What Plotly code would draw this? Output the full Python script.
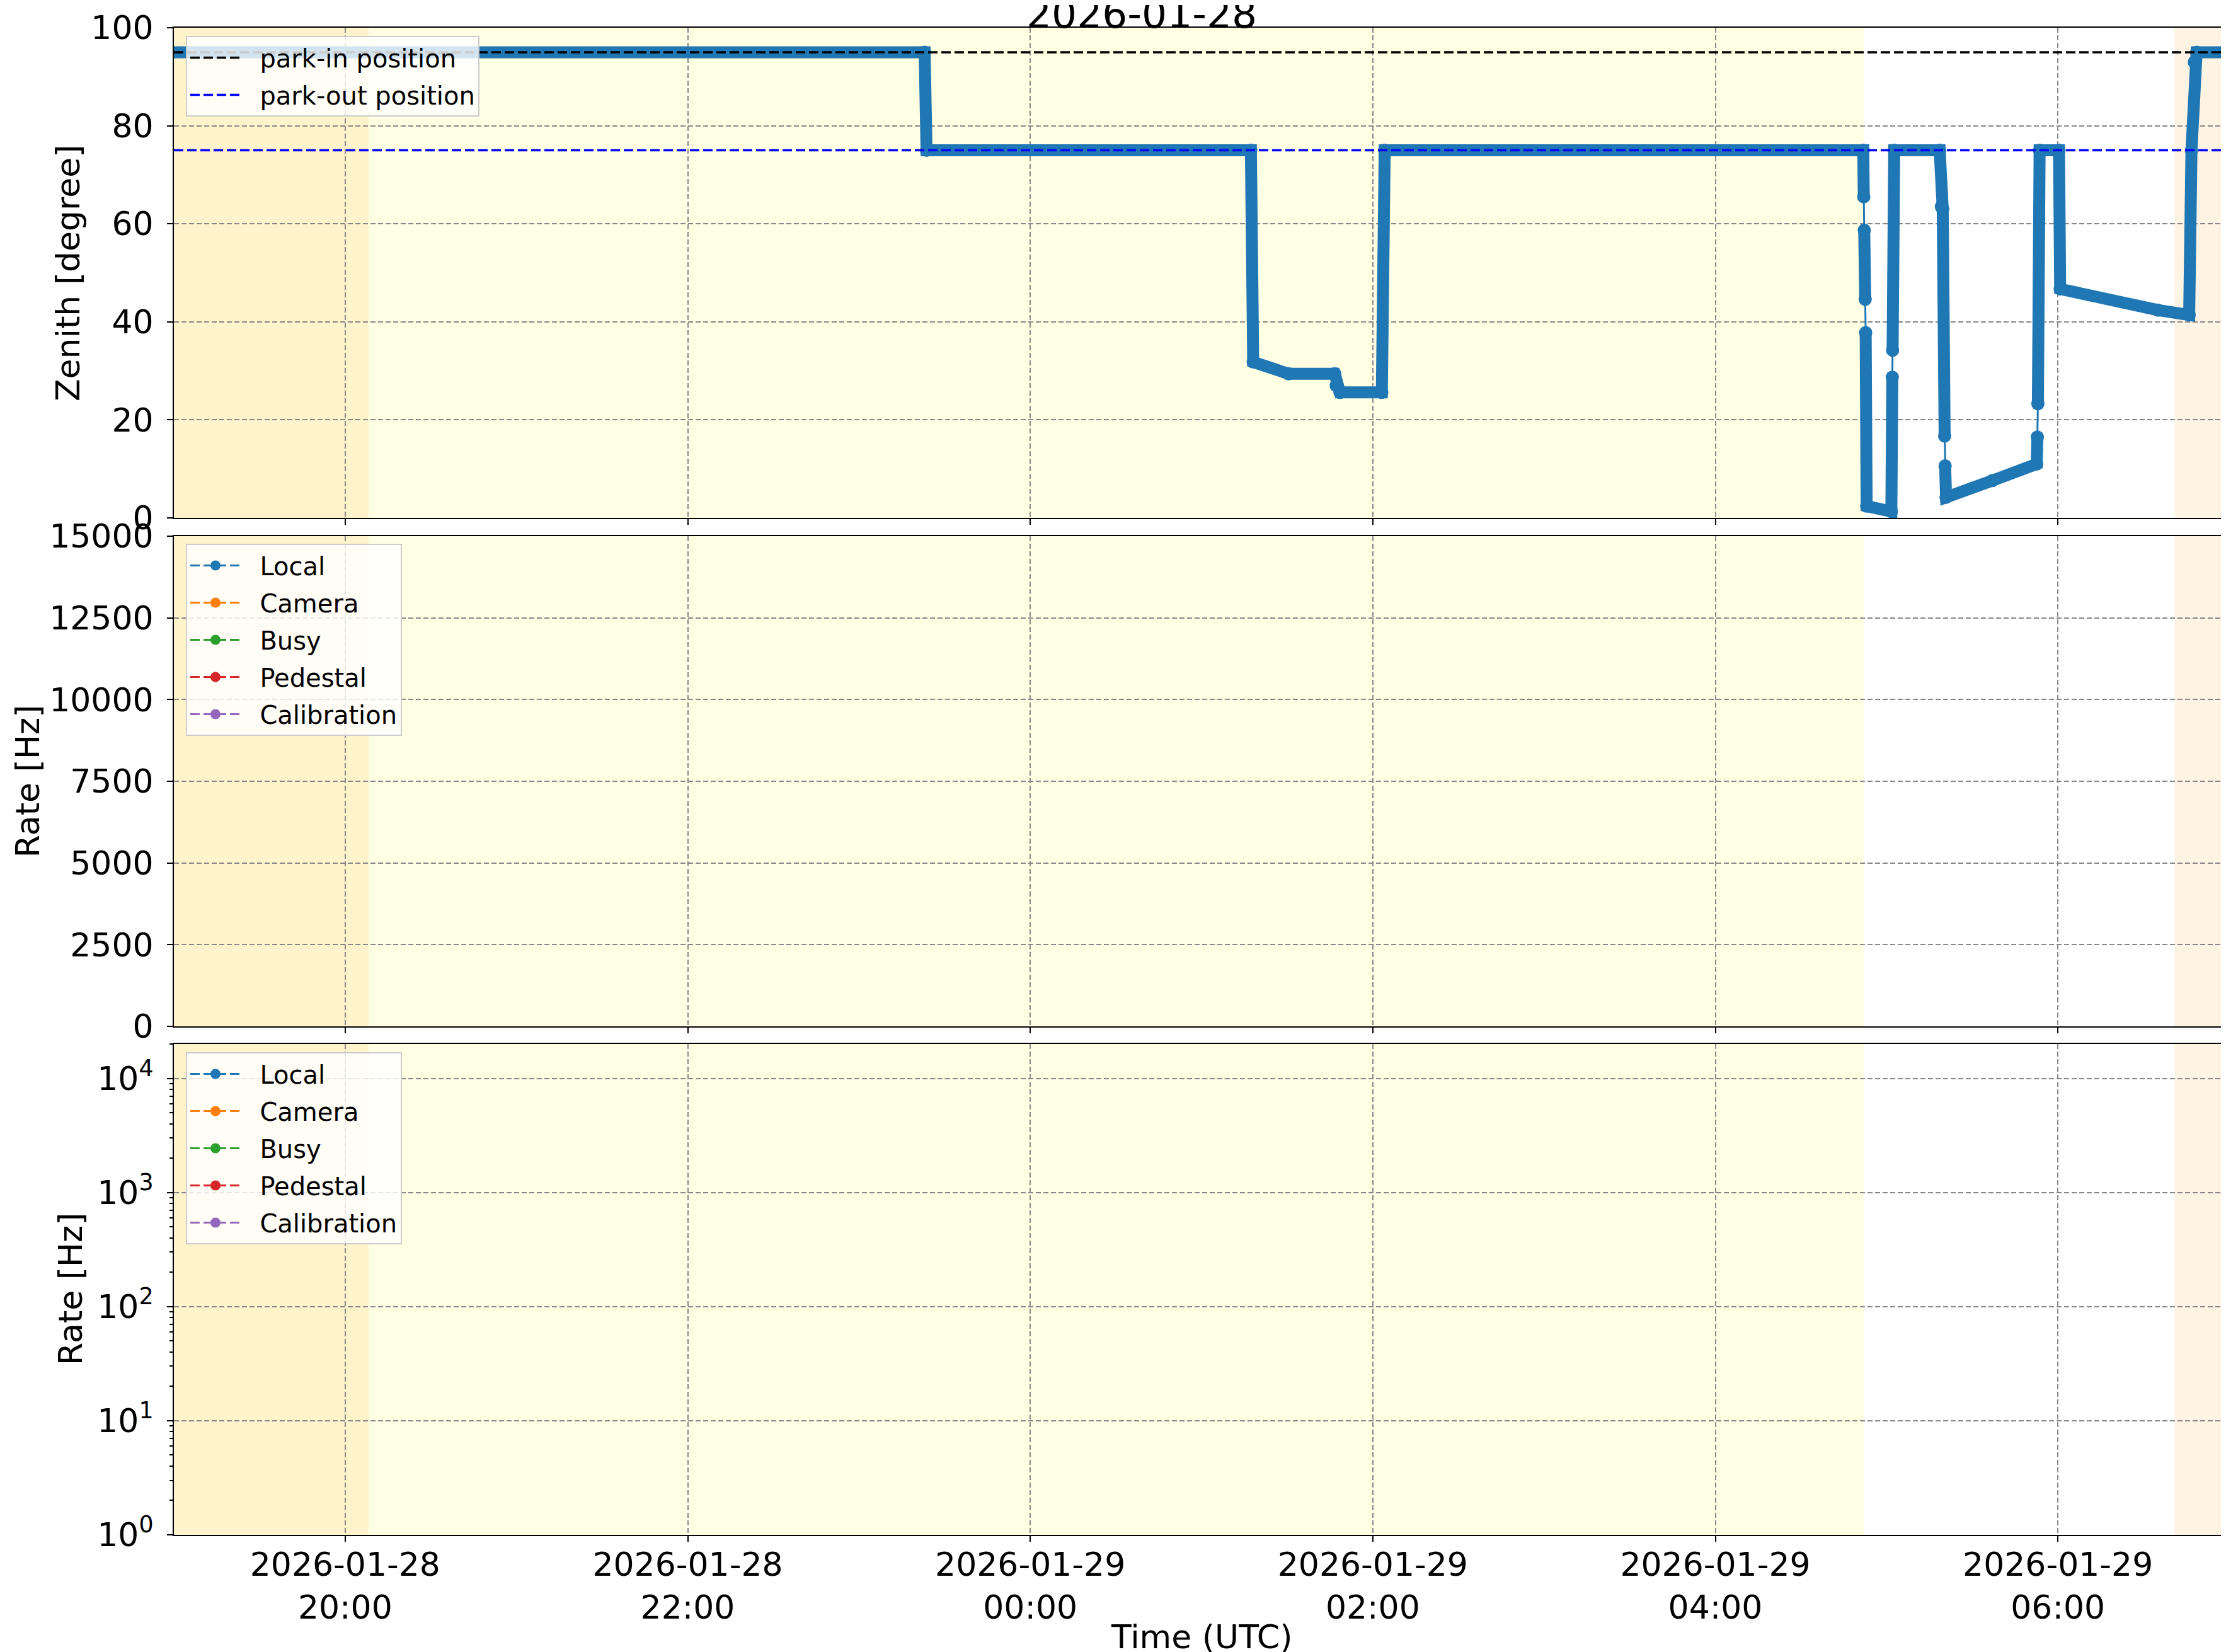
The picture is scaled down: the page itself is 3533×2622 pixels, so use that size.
import plotly.graph_objects as go
from plotly.subplots import make_subplots

# ---------------- data ----------------
TITLE = "2026-01-28"

# zenith angle samples (None = missing samples)
zen_time = [
    "2026-01-28 18:58:00", "2026-01-28 23:23:00", "2026-01-28 23:23:40",
    "2026-01-29 01:17:18", "2026-01-29 01:18:06", "2026-01-29 01:30:30",
    "2026-01-29 01:46:40", "2026-01-29 01:47:10", "2026-01-29 01:48:30",
    "2026-01-29 02:03:10", "2026-01-29 02:04:10", "2026-01-29 04:51:50",
    "2026-01-29 04:52:00", "2026-01-29 04:52:05", "2026-01-29 04:52:10",
    "2026-01-29 04:52:30", "2026-01-29 04:52:35", "2026-01-29 04:52:40",
    "2026-01-29 04:53:00", "2026-01-29 05:01:40", "2026-01-29 05:02:00",
    "2026-01-29 05:02:03", "2026-01-29 05:02:06", "2026-01-29 05:02:40",
    "2026-01-29 05:18:36", "2026-01-29 05:19:10", "2026-01-29 05:19:40",
    "2026-01-29 05:20:20", "2026-01-29 05:20:25", "2026-01-29 05:20:30",
    "2026-01-29 05:20:50", "2026-01-29 05:37:00", "2026-01-29 05:52:36",
    "2026-01-29 05:52:48", "2026-01-29 05:52:54", "2026-01-29 05:53:00",
    "2026-01-29 05:53:36", "2026-01-29 06:00:24", "2026-01-29 06:00:48",
    "2026-01-29 06:35:00", "2026-01-29 06:46:00", "2026-01-29 06:46:48",
    "2026-01-29 06:47:48", "2026-01-29 06:48:36", "2026-01-29 07:05:00",
]
zen_deg = [
    95.0, 95.0, 75.0,
    75.0, 31.8, 29.4,
    29.4, 27.0, 25.6,
    25.6, 75.0, 75.0,
    65.5, None, 58.7,
    44.6, None, 37.8,
    2.4, 1.3, 28.7,
    None, 34.2, 75.0,
    75.0, 63.5, 63.0,
    16.7, None, 10.6,
    4.2, 7.6, 11.0,
    16.5, None, 23.3,
    75.0, 75.0, 46.7,
    42.4, 41.4, 75.0,
    93.0, 95.0, 95.0,
]

PARK_IN = 95
PARK_OUT = 75
X_START = "2026-01-28 19:00:00"
X_END = "2026-01-29 07:00:00"

# trigger rates (no valid samples in this night)
rate_names = ["Local", "Camera", "Busy", "Pedestal", "Calibration"]
rate_colors = ["#1f77b4", "#ff7f0e", "#2ca02c", "#d62728", "#9467bd"]
rate_time = [None]
rate_local = [None]
rate_camera = [None]
rate_busy = [None]
rate_pedestal = [None]
rate_calibration = [None]
rate_values = [rate_local, rate_camera, rate_busy, rate_pedestal, rate_calibration]

# twilight / night background bands
band_start = ["2026-01-28 18:50:00", "2026-01-28 20:08:12", "2026-01-29 06:40:54"]
band_end = ["2026-01-28 20:08:12", "2026-01-29 04:52:00", "2026-01-29 07:10:00"]
band_color = ["#FFF3CB", "#FFFFE3", "#FFF4E3"]

x_tickvals = ["2026-01-28 20:00", "2026-01-28 22:00", "2026-01-29 00:00",
              "2026-01-29 02:00", "2026-01-29 04:00", "2026-01-29 06:00"]
x_ticktext = ["2026-01-28<br>20:00", "2026-01-28<br>22:00", "2026-01-29<br>00:00",
              "2026-01-29<br>02:00", "2026-01-29<br>04:00", "2026-01-29<br>06:00"]
zen_ticks = [0, 20, 40, 60, 80, 100]
lin_ticks = [0, 2500, 5000, 7500, 10000, 12500, 15000]
log_ticks = [1, 10, 100, 1000, 10000]
log_ticktext = ["10<sup>0</sup>", "10<sup>1</sup>", "10<sup>2</sup>", "10<sup>3</sup>", "10<sup>4</sup>"]

# ---------------- figure ----------------
W, H = 3533, 2622
ML, MR, MT, MB = 268, 1, 36, 194
FONT = "DejaVu Sans"
BLUE = "#1f77b4"
NB = "\u00a0\u00a0"  # small gap between legend symbol and label

fig = make_subplots(rows=3, cols=1, shared_xaxes=True)

# zenith: thin connecting line (through gaps) + thick beaded band
fig.add_trace(go.Scatter(x=zen_time, y=zen_deg, mode="lines", connectgaps=True,
                         line=dict(color=BLUE, width=3), showlegend=False,
                         hoverinfo="skip"), row=1, col=1)
fig.add_trace(go.Scatter(x=zen_time, y=zen_deg, mode="lines+markers", connectgaps=False,
                         line=dict(color=BLUE, width=19),
                         marker=dict(color=BLUE, size=21, line=dict(width=0)),
                         showlegend=False, name="Zenith"), row=1, col=1)
fig.add_trace(go.Scatter(x=[X_START, X_END], y=[PARK_IN, PARK_IN], mode="lines",
                         line=dict(color="black", width=3.5, dash="15px,6px"),
                         name=NB + "park-in position", legend="legend",
                         legendgroup="pin"), row=1, col=1)
fig.add_trace(go.Scatter(x=[X_START, X_END], y=[PARK_OUT, PARK_OUT], mode="lines",
                         line=dict(color="blue", width=3.5, dash="15px,6px"),
                         name=NB + "park-out position", legend="legend",
                         legendgroup="pout"), row=1, col=1)

for row, leg in ((2, "legend2"), (3, "legend3")):
    for name, col, vals in zip(rate_names, rate_colors, rate_values):
        fig.add_trace(go.Scatter(x=rate_time, y=vals, mode="lines+markers", name=NB + name,
                                 line=dict(color=col, width=3, dash="15px,6px"),
                                 marker=dict(color=col, size=16),
                                 legend=leg, legendgroup=f"{leg}-{name}"), row=row, col=1)

# background bands
for i, yd in ((1, "y domain"), (2, "y2 domain"), (3, "y3 domain")):
    xr = "x" if i == 1 else f"x{i}"
    for s, e, c in zip(band_start, band_end, band_color):
        fig.add_shape(type="rect", xref=xr, yref=yd, x0=s, x1=e, y0=0, y1=1,
                      fillcolor=c, line=dict(width=0), layer="below")

plot_h = H - MT - MB
def dom(top_px, bot_px):
    return [(H - MB - bot_px) / plot_h, (H - MB - top_px) / plot_h]

axis_common = dict(showline=True, linecolor="black", linewidth=2, mirror=True,
                   ticks="outside", ticklen=9, tickwidth=2, tickcolor="black",
                   showgrid=True, gridcolor="#888888", gridwidth=2, griddash="8px,4px",
                   tickfont=dict(family=FONT, size=52, color="black"), zeroline=False)

for i in (1, 2, 3):
    fig.update_xaxes(axis_common, row=i, col=1)
    fig.update_xaxes(type="date", range=[X_START, X_END], tickmode="array",
                     tickvals=x_tickvals, ticktext=x_ticktext,
                     showticklabels=(i == 3), row=i, col=1)
fig.update_xaxes(ticklabelstandoff=-8, row=3, col=1)

fig.update_yaxes(axis_common, row=1, col=1)
fig.update_yaxes(range=[0, 100], tickvals=zen_ticks, ticklabelstandoff=11,
                 domain=dom(36, 814), row=1, col=1)
fig.update_yaxes(axis_common, row=2, col=1)
fig.update_yaxes(range=[0, 15000], tickvals=lin_ticks, ticktext=[str(v) for v in lin_ticks],
                 ticklabelstandoff=11, domain=dom(843, 1621), row=2, col=1)
fig.update_yaxes(axis_common, row=3, col=1)
fig.update_yaxes(type="log", range=[0, 4.301], tickvals=log_ticks, ticktext=log_ticktext,
                 ticklabelstandoff=11, domain=dom(1649, 2428),
                 minor=dict(ticks="outside", ticklen=5, tickwidth=1.5, tickcolor="black",
                            dtick="D1", showgrid=False),
                 row=3, col=1)

def px_x(px):
    return (px - ML) / (W - ML - MR)

def px_y(py):
    return (H - MB - py) / plot_h

legend_common = dict(bgcolor="rgba(255,255,255,0.8)", bordercolor="#CCCCCC", borderwidth=2,
                     font=dict(family=FONT, size=40, color="black"),
                     xanchor="left", yanchor="top", itemwidth=80,
                     tracegroupgap=4, traceorder="grouped", itemclick=False)

annotations = [
    dict(text=TITLE, x=px_x(1805), y=px_y(14), xref="paper", yref="paper",
         showarrow=False, xanchor="center", yanchor="middle",
         font=dict(family=FONT, size=63, color="black")),
    dict(text="Zenith [degree]", x=px_x(100), y=px_y(425), xref="paper", yref="paper",
         showarrow=False, textangle=-90, xanchor="center", yanchor="middle",
         font=dict(family=FONT, size=52, color="black")),
    dict(text="Rate [Hz]", x=px_x(36), y=px_y(1232), xref="paper", yref="paper",
         showarrow=False, textangle=-90, xanchor="center", yanchor="middle",
         font=dict(family=FONT, size=52, color="black")),
    dict(text="Rate [Hz]", x=px_x(104), y=px_y(2038), xref="paper", yref="paper",
         showarrow=False, textangle=-90, xanchor="center", yanchor="middle",
         font=dict(family=FONT, size=52, color="black")),
    dict(text="Time (UTC)", x=px_x(1900), y=px_y(2590), xref="paper", yref="paper",
         showarrow=False, xanchor="center", yanchor="middle",
         font=dict(family=FONT, size=52, color="black")),
]

fig.update_layout(
    width=W, height=H,
    margin=dict(l=ML, r=MR, t=MT, b=MB, pad=0),
    paper_bgcolor="white", plot_bgcolor="white",
    font=dict(family=FONT, size=52, color="black"),
    legend=dict(legend_common, x=px_x(287), y=px_y(49)),
    legend2=dict(legend_common, x=px_x(287), y=px_y(855)),
    legend3=dict(legend_common, x=px_x(287), y=px_y(1662)),
    annotations=annotations,
    showlegend=True,
)

fig.write_html("out.html")
